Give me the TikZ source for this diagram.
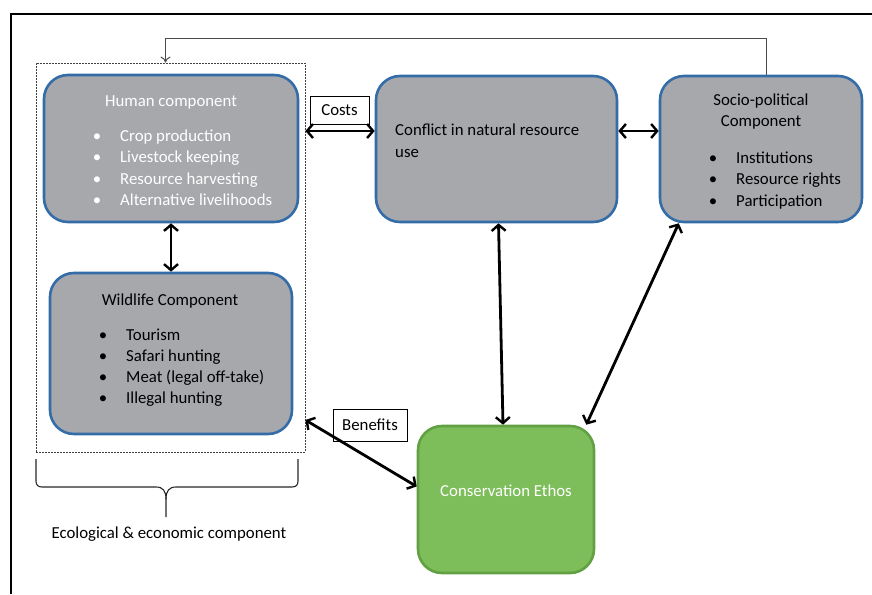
\documentclass[tikz,border=0pt]{standalone}
\usepackage{fontspec}
\setmainfont{Carlito}
\usetikzlibrary{arrows.meta}
\definecolor{boxgray}{RGB}{166,168,172}
\definecolor{boxblue}{RGB}{52,108,168}
\definecolor{ethosgreen}{RGB}{125,190,90}
\definecolor{ethosedge}{RGB}{98,160,68}
\newcommand{\bul}{\llap{\textbullet\hspace{19pt}}}

\begin{document}
\begin{tikzpicture}[x=1pt,y=-1pt,
  box/.style={draw=boxblue,line width=2.6pt,fill=boxgray,rounded corners=24pt,inner sep=0pt},
  lbl/.style={draw,fill=white,line width=0.8pt,inner sep=0pt,font=\fontsize{16.8}{19}\selectfont},
  txt/.style={font=\fontsize{16.8}{19}\selectfont,inner sep=0pt,anchor=base west},
  conn/.style={line width=2.8pt,{Straight Barb[length=6pt,width=14pt,line width=2.4pt]}-{Straight Barb[length=6pt,width=14pt,line width=2.4pt]}},
  fb/.style={draw=black!70,line width=1pt,-{To[length=6pt,width=10pt]}}]
  \useasboundingbox (0,0) rectangle (872,594);
  \draw[line width=2pt] (11,594) -- (11,14) -- (872,14);

  \node[draw=black!75,line width=0.8pt,dash pattern=on 2pt off 1pt,minimum width=269pt,minimum height=389pt,inner sep=0pt] (eco) at (170.5,257.5) {};
  \node[box,minimum width=254pt,minimum height=147pt] (human) at (171,148.5) {};
  \node[box,minimum width=242pt,minimum height=161pt] (wildlife) at (171,353.5) {};
  \node[box,minimum width=241pt,minimum height=146pt] (conflict) at (496.5,149) {};
  \node[box,minimum width=202pt,minimum height=146pt] (socio) at (761,149) {};
  \node[box,draw=ethosedge,fill=ethosgreen,minimum width=176pt,minimum height=147pt] (ethos) at (506,499.5) {};

  \node[txt,anchor=base,text=white] (humantitle) at (171,106) {Human component};
  \foreach \entry [count=\i from 0] in {Crop production,Livestock keeping,Resource harvesting,Alternative livelihoods}
    \node[txt,text=white] at (120,141+21.5*\i) {\bul\entry};

  \node[txt,anchor=base] (wildtitle) at (170,305) {Wildlife Component};
  \foreach \entry [count=\i from 0] in {Tourism,Safari hunting,Meat (legal off-take),Illegal hunting}
    \node[txt] at (126,340+21.3*\i) {\bul\entry};

  \node[txt] (conflicttext) at (395,135) {Conflict in natural resource};
  \node[txt] (conflictuse) at (395,157) {use};

  \node[txt,anchor=base] (sociotitle) at (761,105) {Socio-political};
  \node[txt,anchor=base] (sociocomp) at (761,126) {Component};
  \foreach \entry [count=\i from 0] in {Institutions,Resource rights,Participation}
    \node[txt] at (736,163+21.5*\i) {\bul\entry};

  \node[txt,anchor=base,text=white] (ethostext) at (506,496) {Conservation Ethos};
  \node[txt,anchor=base] (caption) at (169,538) {Ecological \& economic component};

  \node[lbl,minimum width=59pt,minimum height=28pt] (costs) at (339.5,110) {Costs};
  \node[lbl,minimum width=74pt,minimum height=32pt] (benefits) at (370,425) {Benefits};

  \draw[conn] ([yshift=18pt]conflict.west -| eco.east) -- ([yshift=18pt]conflict.west);
  \draw[conn,line width=2.4pt] ([yshift=18pt]conflict.east) -- ([yshift=18pt]socio.west);
  \draw[conn] (human.south) -- (wildlife.north);
  \draw[conn] ([xshift=2pt]conflict.south) -- ([xshift=-3pt]ethos.north);
  \draw[conn] ([xshift=20pt]socio.south west) -- ([xshift=-9pt]ethos.north east);
  \draw[conn] ([yshift=5pt]eco.east |- benefits.center) -- ([yshift=13pt]ethos.west);
  \draw[fb] ([xshift=5pt]socio.north) -- ++(0,-36) -| ([xshift=-5pt]eco.north);

  % brace under the dashed frame
  \draw[line width=1.1pt,black!85] (36,459) -- (36,481) .. controls (36,485) and (38,487) .. (42,487) -- (156,487)
    .. controls (163,487) and (166,491) .. (166,499) -- (166,517);
  \draw[line width=1.1pt,black!85] (298,459) -- (298,481) .. controls (298,485) and (296,487) .. (292,487) -- (176,487)
    .. controls (169,487) and (166,491) .. (166,499);
\end{tikzpicture}
\end{document}
